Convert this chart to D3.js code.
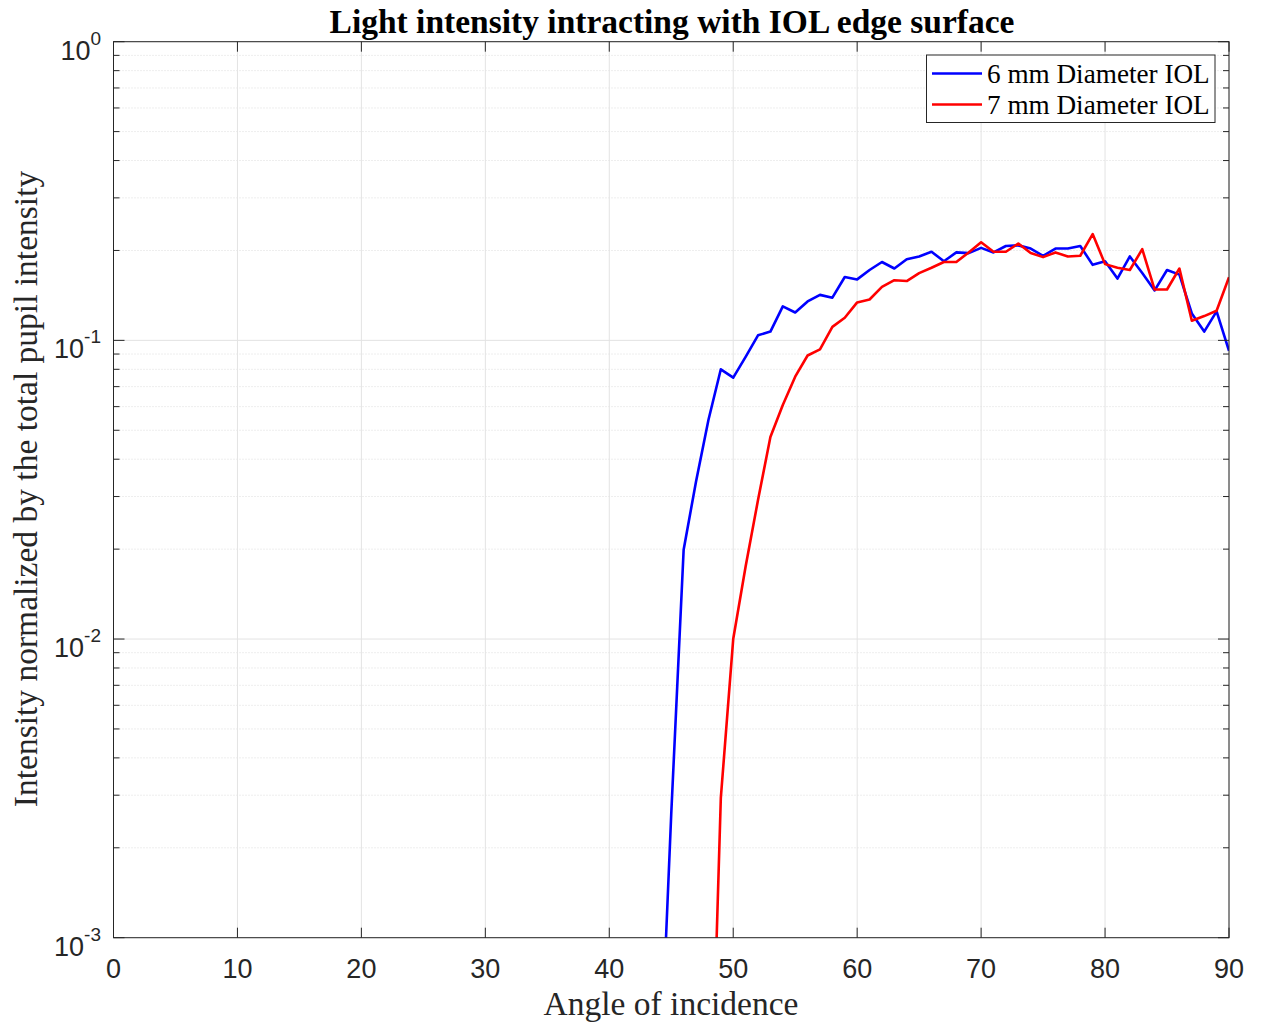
<!DOCTYPE html>
<html><head><meta charset="utf-8">
<script src="https://cdn.jsdelivr.net/npm/d3@7"></script>
<style>html,body{margin:0;padding:0;background:#fff;} svg{display:block;}</style>
</head><body>
<svg id="chart" width="1262" height="1022"></svg>
<script>
const titleText = "Light intensity intracting with IOL edge surface";
const xLabelText = "Angle of incidence";
const yLabelText = "Intensity normalized by the total pupil intensity";
const seriesNames = ["6 mm Diameter IOL", "7 mm Diameter IOL"];
const xTicks = [0, 10, 20, 30, 40, 50, 60, 70, 80, 90];
const yTickExps = [0, -1, -2, -3];

const blueAngles = [44,45,46,47,48,49,50,51,52,53,54,55,56,57,58,59,60,61,62,63,64,65,66,67,68,69,70,71,72,73,74,75,76,77,78,79,80,81,82,83,84,85,86,87,88,89,90];
const blueValues = [0.00027,0.0026,0.0199,0.0337,0.0541,0.080,0.075,0.088,0.104,0.107,0.130,0.124,0.135,0.142,0.139,0.163,0.160,0.172,0.183,0.174,0.187,0.191,0.198,0.184,0.197,0.196,0.204,0.197,0.207,0.208,0.203,0.192,0.203,0.203,0.207,0.179,0.184,0.161,0.191,0.168,0.147,0.172,0.166,0.123,0.107,0.125,0.0923];

const redAngles = [48,49,50,51,52,53,54,55,56,57,58,59,60,61,62,63,64,65,66,67,68,69,70,71,72,73,74,75,76,77,78,79,80,81,82,83,84,85,86,87,88,89,90];
const redValues = [0.00012,0.00294,0.0100,0.0175,0.0292,0.0475,0.0608,0.0756,0.089,0.0933,0.111,0.119,0.134,0.137,0.151,0.159,0.158,0.168,0.175,0.183,0.183,0.197,0.213,0.198,0.198,0.211,0.196,0.190,0.197,0.191,0.192,0.227,0.180,0.175,0.172,0.202,0.148,0.148,0.174,0.1163,0.1206,0.1257,0.1626];

const seriesColors = ["#0000ff", "#ff0000"];

const L = 113.5, R = 1229, T = 41.7, B = 937.7;
const svg = d3.select("#chart");
const x = d3.scaleLinear().domain([0, 90]).range([L, R]);
const y = d3.scaleLog().domain([1e-3, 1]).range([B, T]);

const axisColor = "#262626";
const serif = "'Liberation Serif', 'Times New Roman', serif";
const sans = "'Liberation Sans', Arial, sans-serif";

// grid
const g = svg.append("g");
const minorVals = [];
for (let e = -3; e < 0; e++) for (let k = 2; k <= 9; k++) minorVals.push(k * Math.pow(10, e));
g.selectAll(".ymin").data(minorVals).enter().append("line")
  .attr("x1", L).attr("x2", R).attr("y1", d => y(d)).attr("y2", d => y(d))
  .attr("stroke", "#dcdcdc").attr("stroke-width", 1).attr("stroke-dasharray", "1,2");
g.selectAll(".ymaj").data(yTickExps.map(e => Math.pow(10, e))).enter().append("line")
  .attr("x1", L).attr("x2", R).attr("y1", d => y(d)).attr("y2", d => y(d))
  .attr("stroke", "#e3e3e3").attr("stroke-width", 1);
g.selectAll(".xg").data(xTicks).enter().append("line")
  .attr("x1", d => x(d)).attr("x2", d => x(d)).attr("y1", T).attr("y2", B)
  .attr("stroke", "#e3e3e3").attr("stroke-width", 1);

svg.append("clipPath").attr("id", "clip").append("rect")
  .attr("x", L).attr("y", T).attr("width", R - L).attr("height", B - T);

const line = d3.line().x(d => x(d[0])).y(d => y(d[1]));
const series = [
  blueAngles.map((a, i) => [a, blueValues[i]]),
  redAngles.map((a, i) => [a, redValues[i]])
];
const lines = svg.append("g").attr("clip-path", "url(#clip)");
series.forEach((s, i) => {
  lines.append("path").datum(s).attr("d", line)
    .attr("fill", "none").attr("stroke", seriesColors[i])
    .attr("stroke-width", 2.6).attr("stroke-linejoin", "round");
});

const ax = svg.append("g");
ax.append("rect").attr("x", L).attr("y", T).attr("width", R - L).attr("height", B - T)
  .attr("fill", "none").attr("stroke", axisColor).attr("stroke-width", 1);
xTicks.forEach(t => {
  ax.append("line").attr("x1", x(t)).attr("x2", x(t)).attr("y1", B).attr("y2", B - 10).attr("stroke", axisColor);
  ax.append("line").attr("x1", x(t)).attr("x2", x(t)).attr("y1", T).attr("y2", T + 10).attr("stroke", axisColor);
  ax.append("text").attr("x", x(t)).attr("y", 978).attr("text-anchor", "middle")
    .attr("font-family", sans).attr("font-size", 27).attr("fill", axisColor).text(t);
});
yTickExps.forEach(e => {
  const yy = y(Math.pow(10, e));
  ax.append("line").attr("x1", L).attr("x2", L + 11).attr("y1", yy).attr("y2", yy).attr("stroke", axisColor);
  ax.append("line").attr("x1", R).attr("x2", R - 11).attr("y1", yy).attr("y2", yy).attr("stroke", axisColor);
  const tx = ax.append("text").attr("x", 101).attr("y", yy + 18).attr("text-anchor", "end")
    .attr("font-family", sans).attr("font-size", 27).attr("fill", axisColor);
  tx.append("tspan").text("10");
  tx.append("tspan").attr("font-size", 19).attr("dy", -15).text(e === 0 ? "0" : "-" + Math.abs(e));
});
minorVals.forEach(v => {
  const yy = y(v);
  ax.append("line").attr("x1", L).attr("x2", L + 6).attr("y1", yy).attr("y2", yy).attr("stroke", axisColor);
  ax.append("line").attr("x1", R).attr("x2", R - 6).attr("y1", yy).attr("y2", yy).attr("stroke", axisColor);
});

svg.append("text").attr("x", 672).attr("y", 33).attr("text-anchor", "middle")
  .attr("font-family", serif).attr("font-weight", "bold")
  .attr("font-size", 33.5).attr("fill", "#000").text(titleText);
svg.append("text").attr("x", 671).attr("y", 1015).attr("text-anchor", "middle")
  .attr("font-family", serif).attr("font-size", 33.5).attr("fill", axisColor).text(xLabelText);
svg.append("text").attr("transform", "translate(37,489) rotate(-90)").attr("text-anchor", "middle")
  .attr("font-family", serif).attr("font-size", 33.5).attr("fill", axisColor).text(yLabelText);

const lg = svg.append("g");
lg.append("rect").attr("x", 926.5).attr("y", 55).attr("width", 288.5).attr("height", 67.5)
  .attr("fill", "#fff").attr("stroke", axisColor).attr("stroke-width", 1);
seriesNames.forEach((n, i) => {
  const yy = 73.5 + i * 31;
  lg.append("line").attr("x1", 932).attr("x2", 982).attr("y1", yy).attr("y2", yy)
    .attr("stroke", seriesColors[i]).attr("stroke-width", 2.6);
  lg.append("text").attr("x", 987).attr("y", yy + 9).attr("font-family", serif)
    .attr("font-size", 27.2).attr("fill", "#000").text(n);
});
</script>
</body></html>
